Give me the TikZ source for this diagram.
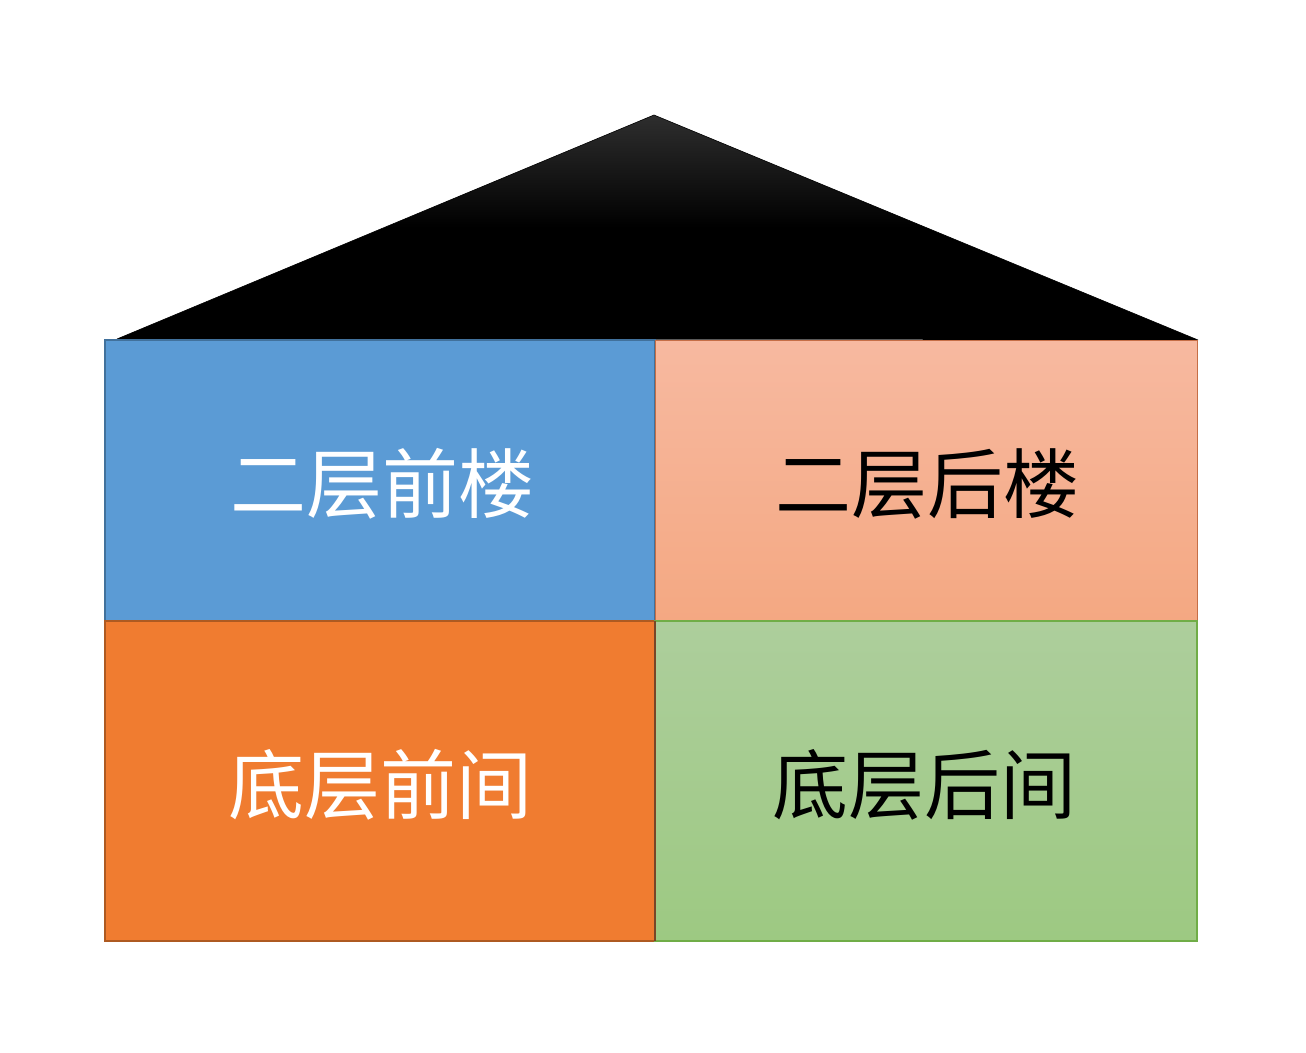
\documentclass[tikz,border=0pt]{standalone}
\usepackage{fontspec}
\newfontfamily\cjk{Noto Sans CJK SC}
\begin{document}
\begin{tikzpicture}[x=1pt,y=-1pt,
  lbl/.style={font=\cjk\fontsize{76}{80}\selectfont, inner sep=0pt}]
\useasboundingbox[fill=white] (0,0) rectangle (1306,1052);
% roof
\coordinate (apex) at (654,115);
\coordinate (rl) at (117,339);
\coordinate (rr) at (1198,340);
\shade[top color=black!82, bottom color=black, middle color=black] (apex) -- (rr) -- (rl) -- cycle;
\draw[black, line width=0.6pt] (rl) -- (apex) -- (rr);
% rooms
\coordinate (tl) at (105,340);
\coordinate (tm) at (655,340);
\coordinate (tr) at (1197,340);
\coordinate (ml) at (105,621);
\coordinate (mm) at (655,621);
\coordinate (mr) at (1197,621);
\coordinate (bl) at (105,941);
\coordinate (bm) at (655,941);
\coordinate (br) at (1197,941);
\fill[color={rgb,255:red,91;green,155;blue,213}] (tl) rectangle (mm);
\draw[line width=1.4pt, color={rgb,255:red,65;green,113;blue,156}] (tl) rectangle (mm);
\shade[top color={rgb,255:red,247;green,185;blue,160}, bottom color={rgb,255:red,244;green,168;blue,130}] (tm) rectangle (mr);
\draw[line width=1pt, color={rgb,255:red,197;green,110;blue,70}] (tm) rectangle (mr);
\fill[color={rgb,255:red,240;green,124;blue,48}] (ml) rectangle (bm);
\draw[line width=1.4pt, color={rgb,255:red,174;green,90;blue,33}] (ml) rectangle (bm);
\shade[top color={rgb,255:red,173;green,206;blue,156}, bottom color={rgb,255:red,157;green,201;blue,130}] (mm) rectangle (br);
\draw[line width=1.2pt, color={rgb,255:red,112;green,173;blue,71}] (mm) rectangle (br);
\draw[line width=1.4pt, color={rgb,255:red,120;green,70;blue,40}] (mm) -- (bm);
% labels
\node[lbl, text=white] (a) at (382,484) {二层前楼};
\node[lbl, text=black] (b) at (927,484) {二层后楼};
\node[lbl, text=white] (c) at (380,785) {底层前间};
\node[lbl, text=black] (d) at (924,785) {底层后间};
\end{tikzpicture}
\end{document}
